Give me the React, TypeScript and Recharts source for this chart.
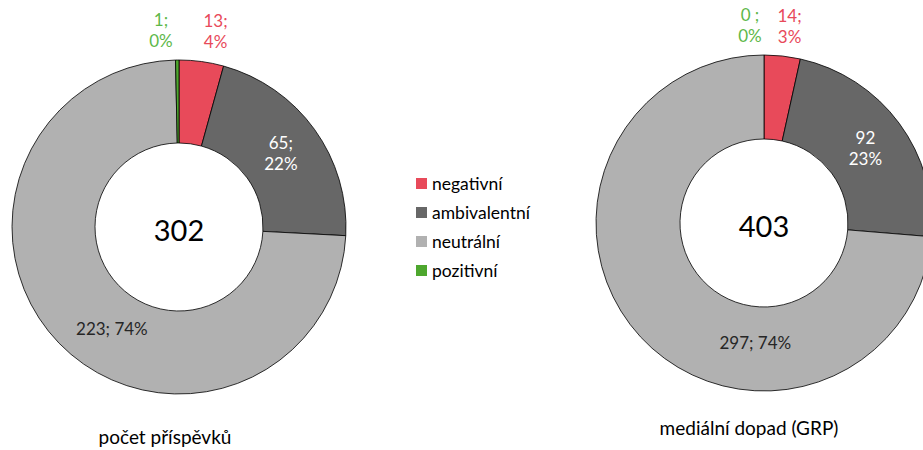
import { PieChart, Pie, Cell } from "recharts";

const categories = ["negativní", "ambivalentní", "neutrální", "pozitivní"];
const postCounts = [13, 65, 223, 1];
const grpValues = [14, 92, 297, 0];
// separators Excel used between value and percent, per slice
const postSeparators = [";", ";", "; ", ";"];
const grpSeparators = [";", "", "; ", " ;"];
const chartTitles = ["počet příspěvků", "mediální dopad (GRP)"];

const sliceColors = ["#E84A5A", "#676767", "#B1B1B1", "#4EA72E"];
const labelColors = ["#E84A5A", "#FFFFFF", "#262626", "#5DB84A"];
const FONT = "Lato, 'Open Sans', sans-serif";
const RAD = Math.PI / 180;

type Nudge = { dx: number; dy: number };

function makeLabel(values: number[], separators: string[], nudges: Nudge[]) {
  const total = values.reduce((a, b) => a + b, 0);
  return (props: any) => {
    const { cx, cy, midAngle, innerRadius, outerRadius, index } = props;
    const value = values[index];
    const pct = `${Math.round((value / total) * 100)}%`;
    const first = `${value}${separators[index]}`;
    const outside = index === 0 || index === 3;
    const r = outside ? outerRadius + 30 : (innerRadius + outerRadius) / 2;
    const x = cx + r * Math.cos(-midAngle * RAD) + nudges[index].dx;
    const y = cy + r * Math.sin(-midAngle * RAD) + nudges[index].dy;
    const common = {
      fill: labelColors[index],
      fontSize: 17,
      fontFamily: FONT,
      textAnchor: "middle" as const,
      dominantBaseline: "central" as const,
    };
    // the total goes in the hole, drawn once per pie
    const center =
      index === 0 ? (
        <text
          x={cx}
          y={cy + 2}
          fill="#000"
          fontSize={29}
          fontFamily={FONT}
          textAnchor="middle"
          dominantBaseline="central"
        >
          {total}
        </text>
      ) : null;
    if (index === 2) {
      return (
        <text x={x} y={y} {...common}>
          {`${first}${pct}`}
        </text>
      );
    }
    return (
      <g>
        {center}
        <text x={x} y={y - 11} {...common}>
          {first}
        </text>
        <text x={x} y={y + 10} {...common}>
          {pct}
        </text>
      </g>
    );
  };
}

const postData = categories.map((name, i) => ({ name, value: postCounts[i] }));
const grpData = categories.map((name, i) => ({ name, value: grpValues[i] }));

const postNudges = [
  { dx: 10, dy: 0 },
  { dx: 0, dy: 0 },
  { dx: 23, dy: 14 },
  { dx: -16, dy: 0 },
];
const grpNudges = [
  { dx: 4, dy: 0 },
  { dx: 0, dy: 0 },
  { dx: 84, dy: 34 },
  { dx: -14, dy: 0 },
];

export default function App() {
  return (
    <div
      style={{
        position: "absolute",
        left: 0,
        top: 0,
        width: 923,
        height: 450,
        background: "#fff",
        fontFamily: FONT,
        overflow: "hidden",
      }}
    >
      <PieChart
        width={923}
        height={450}
        margin={{ top: 0, right: 0, bottom: 0, left: 0 }}
      >
        <Pie
          data={postData}
          dataKey="value"
          nameKey="name"
          cx={179}
          cy={227}
          innerRadius={84}
          outerRadius={167}
          startAngle={90}
          endAngle={-270}
          stroke="#000"
          strokeWidth={0.8}
          label={makeLabel(postCounts, postSeparators, postNudges)}
          labelLine={false}
          isAnimationActive={false}
        >
          {postData.map((d, i) => (
            <Cell key={d.name} fill={sliceColors[i]} />
          ))}
        </Pie>
        <Pie
          data={grpData}
          dataKey="value"
          nameKey="name"
          cx={764}
          cy={223}
          innerRadius={84}
          outerRadius={168}
          startAngle={90}
          endAngle={-270}
          stroke="#000"
          strokeWidth={0.8}
          label={makeLabel(grpValues, grpSeparators, grpNudges)}
          labelLine={false}
          isAnimationActive={false}
        >
          {grpData.map((d, i) => (
            <Cell key={d.name} fill={sliceColors[i]} />
          ))}
        </Pie>
      </PieChart>

      <div
        style={{
          position: "absolute",
          left: 416,
          top: 169,
          fontSize: 17.5,
          color: "#000",
        }}
      >
        {categories.map((c, i) => (
          <div
            key={c}
            style={{ display: "flex", alignItems: "center", height: 29 }}
          >
            <span
              style={{
                width: 11,
                height: 11,
                background: sliceColors[i],
                marginRight: 5,
                display: "inline-block",
              }}
            />
            {c}
          </div>
        ))}
      </div>

      <div
        style={{
          position: "absolute",
          left: 65,
          width: 200,
          top: 425,
          textAlign: "center",
          fontSize: 19,
          lineHeight: "24px",
        }}
      >
        {chartTitles[0]}
      </div>
      <div
        style={{
          position: "absolute",
          left: 649,
          width: 200,
          top: 416,
          textAlign: "center",
          fontSize: 19,
          lineHeight: "24px",
        }}
      >
        {chartTitles[1]}
      </div>
    </div>
  );
}
